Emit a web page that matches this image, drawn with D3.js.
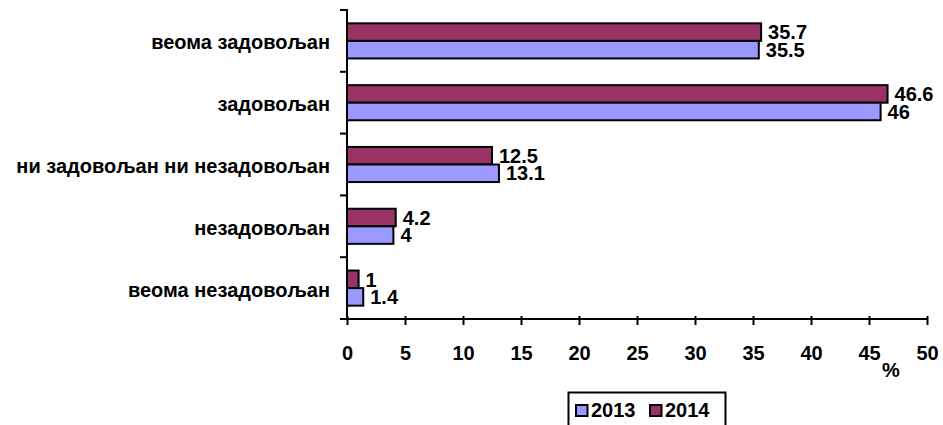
<!DOCTYPE html>
<html>
<head>
<meta charset="utf-8">
<script src="https://cdn.jsdelivr.net/npm/d3@7"></script>
<style>
  html, body { margin: 0; padding: 0; background: #fff; overflow: hidden; }
  svg { display: block; }
  text { font-family: "Liberation Sans", Arial, sans-serif; font-weight: bold; fill: #000; }
</style>
</head>
<body>
<svg id="chart" width="943" height="425"></svg>
<script>
// Satisfaction levels, top to bottom
const categories = ["веома задовољан", "задовољан", "ни задовољан ни незадовољан", "незадовољан", "веома незадовољан"];
const seriesNames = ["2014", "2013"];
const values2013 = [35.5, 46, 13.1, 4, 1.4];
const values2014 = [35.7, 46.6, 12.5, 4.2, 1];
const xTicks = [0, 5, 10, 15, 20, 25, 30, 35, 40, 45, 50];
const legendNames = ["2013", "2014"];
const colors = { "2013": "#9999FF", "2014": "#993366" };

const svg = d3.select("#chart");
const plot = { left: 347, right: 927, top: 10, bottom: 319 };
const fontSize = 20;

const x = d3.scaleLinear().domain([0, 50]).range([plot.left, plot.right]);
const y = d3.scaleBand().domain(categories).range([plot.top, plot.bottom]);
const inner = d3.scaleBand().domain(seriesNames).range([0, y.bandwidth()]).paddingOuter(0.76);

const seriesValues = { "2013": values2013, "2014": values2014 };

// Bars with value labels
seriesNames.forEach(s => {
  const g = svg.append("g");
  g.selectAll("rect").data(categories).join("rect")
    .attr("x", x(0))
    .attr("y", c => y(c) + inner(s))
    .attr("width", (c, i) => x(seriesValues[s][i]) - x(0))
    .attr("height", inner.bandwidth())
    .attr("fill", colors[s])
    .attr("stroke", "#000")
    .attr("stroke-width", 2);
  g.selectAll("text").data(categories).join("text")
    .attr("x", (c, i) => x(seriesValues[s][i]) + 7)
    .attr("y", c => y(c) + inner(s) + inner.bandwidth() / 2)
    .attr("dy", "0.36em")
    .attr("font-size", fontSize)
    .text((c, i) => seriesValues[s][i]);
});

// X axis
const xAxis = svg.append("g").attr("transform", `translate(0,${plot.bottom})`)
  .call(d3.axisBottom(x).tickValues(xTicks).tickSize(6).tickSizeOuter(0).tickPadding(21));
xAxis.select(".domain").attr("stroke", "#000").attr("stroke-width", 2)
  .attr("d", `M${plot.left - 7},0H${plot.right}`);
xAxis.selectAll(".tick line").attr("stroke", "#000").attr("stroke-width", 2).attr("y1", -3);
xAxis.selectAll(".tick text").attr("font-size", fontSize).attr("font-family", null).attr("fill", "#000");

// Y axis with ticks at category boundaries
const yAxisG = svg.append("g");
yAxisG.append("line").attr("x1", plot.left).attr("x2", plot.left).attr("y1", plot.top - 1).attr("y2", plot.bottom)
  .attr("stroke", "#000").attr("stroke-width", 2);
yAxisG.selectAll("line.b").data(categories).join("line").attr("class", "b")
  .attr("x1", plot.left - 7).attr("x2", plot.left).attr("y1", c => y(c)).attr("y2", c => y(c))
  .attr("stroke", "#000").attr("stroke-width", 2);
yAxisG.selectAll("text").data(categories).join("text")
  .attr("x", plot.left - 17)
  .attr("y", c => y(c) + y.bandwidth() / 2)
  .attr("dy", "0.42em")
  .attr("text-anchor", "end")
  .attr("font-size", fontSize)
  .text(c => c);

// Unit label
svg.append("text").attr("x", 891).attr("y", 377).attr("text-anchor", "middle")
  .attr("font-size", fontSize).text("%");

// Legend
const lg = svg.append("g");
lg.append("rect").attr("x", 568.5).attr("y", 392.5).attr("width", 157).attr("height", 40)
  .attr("fill", "#fff").attr("stroke", "#000").attr("stroke-width", 2);
const lx = [576, 650];
legendNames.forEach((n, i) => {
  lg.append("rect").attr("x", lx[i]).attr("y", 405).attr("width", 11.5).attr("height", 11)
    .attr("fill", colors[n]).attr("stroke", "#000").attr("stroke-width", 2);
  lg.append("text").attr("x", lx[i] + 15).attr("y", 416.7)
    .attr("font-size", fontSize).text(n);
});
</script>
</body>
</html>
